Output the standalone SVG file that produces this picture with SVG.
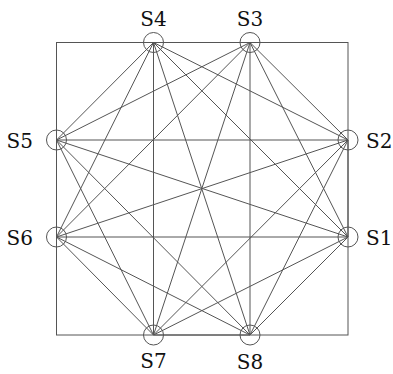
<svg xmlns="http://www.w3.org/2000/svg" width="393" height="374" viewBox="0 0 393 374">
<style>
.e{stroke:#555;stroke-width:1;fill:none}
.n{stroke:#555;stroke-width:1;fill:none}
</style>
<rect x="0" y="0" width="393" height="374" fill="#fff"/>
<rect x="56.5" y="42.5" width="291.5" height="292.5" class="e"/>
<g id="connectors" class="e">
<path d="M153.5 42.5L250 42.5M153.5 42.5L56.5 140M153.5 42.5L56.5 237M153.5 42.5L348 140M153.5 42.5L348 237M153.5 42.5L153.5 335M153.5 42.5L250 335"/>
<path d="M250 42.5L56.5 140M250 42.5L56.5 237M250 42.5L348 140M250 42.5L348 237M250 42.5L153.5 335M250 42.5L250 335"/>
<path d="M56.5 140L348 140M56.5 140L348 237M56.5 140L56.5 237M56.5 140L153.5 335M56.5 140L250 335"/>
<path d="M348 140L56.5 237M348 140L348 237M348 140L153.5 335M348 140L250 335"/>
<path d="M56.5 237L348 237M56.5 237L153.5 335M56.5 237L250 335"/>
<path d="M348 237L153.5 335M348 237L250 335"/>
<path d="M153.5 335L250 335"/>
</g>
<g font-family="DejaVu Serif, serif" font-size="20" fill="#111">
<g id="S4"><circle cx="153.5" cy="42.5" r="10" class="n"/><text x="153.5" y="26" text-anchor="middle">S4</text></g>
<g id="S3"><circle cx="250" cy="42.5" r="10" class="n"/><text x="250" y="26" text-anchor="middle">S3</text></g>
<g id="S5"><circle cx="56.5" cy="140" r="10" class="n"/><text x="33" y="148" text-anchor="end">S5</text></g>
<g id="S2"><circle cx="348" cy="140" r="10" class="n"/><text x="366" y="148">S2</text></g>
<g id="S6"><circle cx="56.5" cy="237" r="10" class="n"/><text x="33" y="245" text-anchor="end">S6</text></g>
<g id="S1"><circle cx="348" cy="237" r="10" class="n"/><text x="366" y="245">S1</text></g>
<g id="S7"><circle cx="153.5" cy="335" r="10" class="n"/><text x="153.5" y="368" text-anchor="middle">S7</text></g>
<g id="S8"><circle cx="250" cy="335" r="10" class="n"/><text x="250" y="369" text-anchor="middle">S8</text></g>
</g>
</svg>
